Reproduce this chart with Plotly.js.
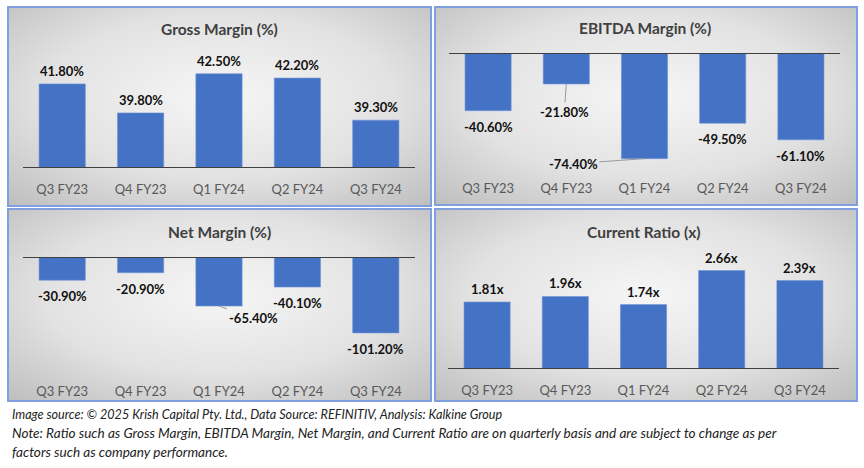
<!DOCTYPE html>
<html><head><meta charset="utf-8">
<script src="https://cdn.plot.ly/plotly-3.0.1.min.js"></script>
<style>html,body{margin:0;padding:0;background:#fff}#chart{width:864px;height:468px}</style>
</head><body><div id="chart"></div>
<script>
// ---- data ----
const quarters = ['Q3 FY23', 'Q4 FY23', 'Q1 FY24', 'Q2 FY24', 'Q3 FY24'];
const grossMargin = [41.8, 39.8, 42.5, 42.2, 39.3];
const ebitdaMargin = [-40.6, -21.8, -74.4, -49.5, -61.1];
const netMargin = [-30.9, -20.9, -65.4, -40.1, -101.2];
const currentRatio = [1.81, 1.96, 1.74, 2.66, 2.39];
const panelTitles = ['Gross Margin (%)', 'EBITDA Margin (%)', 'Net Margin (%)', 'Current Ratio (x)'];
const footnoteLines = [
  'Image source: \u00A9 2025 Krish Capital Pty. Ltd., Data Source: REFINITIV, Analysis: Kalkine Group',
  'Note: Ratio such as Gross Margin, EBITDA Margin, Net Margin, and Current Ratio are on quarterly basis and are subject to change as per',
  'factors such as company performance.'
];

// ---- layout helpers ----
const W = 864, H = 468;
const fx = px => px / W;
const fy = py => 1 - py / H;
const FONT = 'Lato, "Open Sans", sans-serif';
const BAR = '#4472C4';

// panel boxes [x0, y0, x1, y1] in pixels
const panels = [
  {box: [8, 7, 431, 206], xd: [23, 415], yb: 168, yt: 52, range: [36, 44], title: [219, 29], suffix: '%'},
  {box: [435, 7, 857, 205], xd: [449, 840], yb: 166.6, yt: 53, range: [-80, 0], title: [645, 28], suffix: '%'},
  {box: [8, 209, 431, 401], xd: [23, 415], yb: 369.5, yt: 257, range: [-150, 0], title: [219, 232], suffix: '%'},
  {box: [435, 209, 857, 401], xd: [448, 839], yb: 369, yt: 258, range: [0, 3], title: [644, 232], suffix: 'x'}
];
const series = [grossMargin, ebitdaMargin, netMargin, currentRatio];
// label leader-line offsets (style only): panel -> index -> [ax, ay]
const leaders = {1: {1: [-2, 28], 2: [-71, 5]}, 2: {2: [34, 12]}};
const footSizes = [12.6, 13.6, 13.6];

const gradSvg = '<svg xmlns="http://www.w3.org/2000/svg" width="100" height="100" preserveAspectRatio="none" viewBox="0 0 100 100">' +
  '<defs><radialGradient id="g" cx="50%" cy="45%" r="75%"><stop offset="0" stop-color="#f6f6f6"/><stop offset="0.55" stop-color="#e2e2e2"/><stop offset="1" stop-color="#bdbdbd"/></radialGradient></defs>' +
  '<rect width="100" height="100" fill="url(#g)"/></svg>';
const gradSrc = 'data:image/svg+xml;charset=utf-8,' + encodeURIComponent(gradSvg);

const data = [], annotations = [], shapes = [], images = [];
const layout = {
  width: W, height: H, margin: {l: 0, r: 0, t: 0, b: 0},
  paper_bgcolor: '#ffffff', plot_bgcolor: 'rgba(0,0,0,0)',
  showlegend: false, bargap: 0.41, font: {family: FONT}
};

panels.forEach((p, i) => {
  const n = i === 0 ? '' : String(i + 1);
  const xa = 'x' + n, ya = 'y' + n;
  const [x0, y0, x1, y1] = p.box;
  images.push({source: gradSrc, xref: 'paper', yref: 'paper', x: fx(x0), y: fy(y0),
    sizex: fx(x1 - x0), sizey: (y1 - y0) / H, sizing: 'stretch', xanchor: 'left', yanchor: 'top', layer: 'below'});
  shapes.push({type: 'rect', xref: 'paper', yref: 'paper', x0: fx(x0), x1: fx(x1), y0: fy(y0), y1: fy(y1),
    line: {color: '#7f9fdf', width: 2}, fillcolor: 'rgba(0,0,0,0)', layer: 'below'});
  const base = p.range[0] > 0 ? p.range[0] : 0;
  shapes.push({type: 'line', xref: xa + ' domain', yref: ya, x0: 0, x1: 1, y0: base, y1: base,
    line: {color: '#404040', width: 1.8}, layer: 'above'});
  layout['xaxis' + n] = {domain: [fx(p.xd[0]), fx(p.xd[1])], anchor: ya, showgrid: false, zeroline: false, showline: false,
    ticks: '', tickfont: {family: FONT, size: 13, color: '#595959'}, ticklabelstandoff: 12, fixedrange: true};
  layout['yaxis' + n] = {domain: [fy(p.yb), fy(p.yt)], anchor: xa, range: p.range, visible: false, fixedrange: true};
  data.push({type: 'bar', x: quarters, y: series[i], xaxis: xa, yaxis: ya, marker: {color: BAR, line: {color: '#6f93d6', width: 0.6}}, hoverinfo: 'skip'});
  annotations.push({xref: 'paper', yref: 'paper', x: fx(p.title[0]), y: fy(p.title[1]), xanchor: 'center', yanchor: 'middle',
    text: panelTitles[i], showarrow: false, font: {family: FONT, size: 15.5, color: '#404040', weight: 700}});
  series[i].forEach((v, j) => {
    const txt = v.toFixed(2) + p.suffix;
    const lead = leaders[i] && leaders[i][j];
    const a = {xref: xa, yref: ya, x: quarters[j], y: v, text: txt,
      font: {family: FONT, size: 13, color: '#111111', weight: 700}, xanchor: 'center', yanchor: 'middle'};
    if (lead) {
      Object.assign(a, {showarrow: true, ax: lead[0], ay: lead[1], arrowhead: 0, arrowwidth: 1, arrowcolor: '#9a9a9a', standoff: 0, startstandoff: 0});
    } else {
      Object.assign(a, {showarrow: false, yshift: v >= 0 ? 13 : -16});
    }
    annotations.push(a);
  });
});

footnoteLines.forEach((t, k) => {
  annotations.push({xref: 'paper', yref: 'paper', x: fx(10), y: fy(414 + k * 19), xanchor: 'left', yanchor: 'middle',
    text: t, showarrow: false, font: {family: FONT, size: footSizes[k], color: '#222222', style: 'italic'}});
});

layout.annotations = annotations;
layout.shapes = shapes;
layout.images = images;
Plotly.newPlot('chart', data, layout, {displayModeBar: false, staticPlot: true});
</script></body></html>
